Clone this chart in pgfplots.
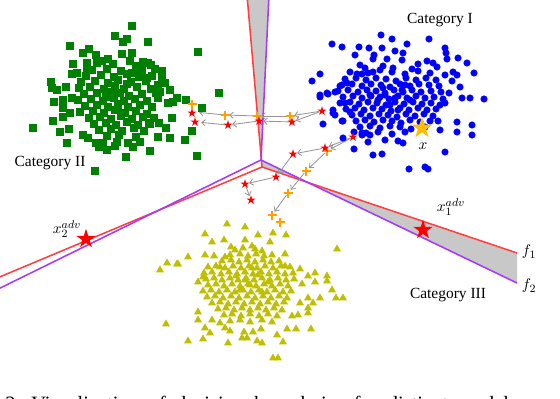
\documentclass[border=0pt]{standalone}
\usepackage{fontspec}
\setmainfont{Liberation Serif}
\usepackage{pgfplots}
\pgfplotsset{compat=1.18}
\usetikzlibrary{arrows.meta}
\definecolor{cI}{rgb}{0,0,1}
\definecolor{cII}{rgb}{0,0.5,0}
\definecolor{cIII}{rgb}{0.75,0.75,0}
\definecolor{fone}{RGB}{255,64,64}
\definecolor{ftwo}{RGB}{168,56,250}
\definecolor{band}{RGB}{200,200,200}
\definecolor{stepc}{RGB}{255,160,0}
\definecolor{gold}{RGB}{255,190,0}
\definecolor{arrc}{RGB}{150,150,150}
\tikzset{lbl/.style={font=\fontsize{11}{13}\selectfont}}

% filled five-pointed star
\pgfdeclareplotmark{fstar}{%
  \pgfpathmoveto{\pgfpointpolar{90}{\pgfplotmarksize}}%
  \pgfpathlineto{\pgfpointpolar{126}{0.382*\pgfplotmarksize}}%
  \pgfpathlineto{\pgfpointpolar{162}{\pgfplotmarksize}}%
  \pgfpathlineto{\pgfpointpolar{198}{0.382*\pgfplotmarksize}}%
  \pgfpathlineto{\pgfpointpolar{234}{\pgfplotmarksize}}%
  \pgfpathlineto{\pgfpointpolar{270}{0.382*\pgfplotmarksize}}%
  \pgfpathlineto{\pgfpointpolar{306}{\pgfplotmarksize}}%
  \pgfpathlineto{\pgfpointpolar{342}{0.382*\pgfplotmarksize}}%
  \pgfpathlineto{\pgfpointpolar{18}{\pgfplotmarksize}}%
  \pgfpathlineto{\pgfpointpolar{54}{0.382*\pgfplotmarksize}}%
  \pgfpathclose
  \pgfusepathqfill}

\begin{document}
\begin{tikzpicture}
\begin{axis}[
    width=14cm, height=9.95cm, scale only axis,
    xmin=0, xmax=560, ymin=0, ymax=398, y dir=reverse,
    hide axis,
    arr/.style={arrc, line width=0.6pt, shorten >=3pt, shorten <=2pt,
        -{Straight Barb[length=2.5pt,width=4.5pt]}},
]
% shaded bands between the two boundaries
\addplot[fill=band, draw=none] coordinates {(247,-5) (269,-5) (261,160) (262,167)} -- cycle;
\addplot[fill=band, draw=none] coordinates {(261,160) (262,167) (517,253) (517,283)} -- cycle;

% decision boundaries f1 (red) and f2 (purple)
\addplot[fone, line width=1.1pt] coordinates {(247,-5) (262,167) (517,253)};
\addplot[fone, line width=1.1pt] coordinates {(262,167) (-10,281)};
\addplot[ftwo, line width=1.1pt] coordinates {(269,-5) (261,160) (517,283)};
\addplot[ftwo, line width=1.1pt] coordinates {(261,160) (-10,293)};

% Category II (green squares)
\addplot[only marks, mark=square*, mark size=2.3pt, cII, mark options={draw=none, fill=cII}] coordinates {
(132,26) (115,36) (127,39) (123,42) (148,42) (70,46) (198,52) (83,53) (89,49) (96,55)
(102,61) (132,53) (122,54) (73,64) (72,74) (77,73) (87,63) (87,70) (51,82) (52,88)
(57,90) (66,87) (54,102) (63,100) (72,98) (63,108) (70,113) (63,117) (53,121) (33,128)
(60,132) (69,129) (67,143) (83,135) (88,138) (96,143) (103,143) (117,142) (128,143) (140,142)
(158,137) (170,138) (185,140) (166,128) (172,118) (159,123) (150,124) (219,93) (186,100) (177,98)
(173,102) (168,103) (162,71) (162,77) (158,85) (165,83) (170,90) (160,92) (147,78) (148,63)
(143,62) (138,69) (132,73) (202,108) (197,156) (192,131) (99,147) (107,150) (150,151) (126,157)
(95,171) (115,146) (133,147)
(108,59) (130,61)
(97,63) (113,64) (136,66) (151,65)
(92,70) (107,69) (121,71) (142,70) (155,69)
(86,76) (101,75) (114,77) (127,74) (139,77) (152,76)
(81,82) (95,81) (108,83) (118,80) (131,82) (146,81)
(79,88) (90,87) (104,89) (115,86) (124,89) (137,87) (151,89)
(84,94) (97,93) (109,95) (120,93) (129,96) (142,94) (156,93)
(78,100) (91,99) (103,101) (114,98) (124,101) (135,99) (147,101) (158,98)
(85,106) (97,105) (108,107) (118,104) (128,107) (140,105) (152,107)
(80,112) (93,111) (104,113) (115,110) (125,113) (136,111) (147,114)
(89,118) (100,117) (111,119) (121,116) (132,119) (143,117) (154,118)
(94,124) (106,123) (116,125) (127,122) (138,125) (149,123)
(99,130) (111,129) (122,131) (134,128) (144,131)
(107,136) (119,135) (136,137)
(112,92) (127,84) (118,110) (106,97)
};

% Category I (blue circles)
\addplot[only marks, mark=*, mark size=2.3pt, cI, mark options={draw=none, fill=cI}] coordinates {
(381,35) (392,39) (429,39) (332,44) (342,47) (359,47) (369,48) (382,48) (395,51) (407,44)
(445,48) (446,53) (355,55) (374,55) (373,59) (387,59) (403,53) (447,59) (458,58) (467,63)
(427,61) (433,63) (437,67) (418,64) (412,69) (402,60) (360,65) (365,68) (383,66) (393,68)
(362,74) (357,74) (373,72) (320,74) (312,81) (445,75) (453,72) (457,75) (474,73) (452,81)
(460,87) (449,93) (462,98) (470,98) (484,99) (445,103) (320,97) (328,94) (335,92) (340,86)
(347,83) (345,103) (350,112) (333,110) (335,115) (342,121) (323,124) (457,122) (472,125) (457,132)
(472,135) (445,152) (409,169) (425,167) (428,169) (382,154) (373,155) (368,142) (385,140)
(398,141) (403,143) (440,130) (438,121) (362,133) (370,135) (320,95) (327,93) (333,113) (343,121)
(343,138) (354,132) (354,149) (362,135)
(350,72) (368,73) (380,70) (392,72) (405,74) (418,71) (430,73)
(345,79) (356,78) (366,80) (376,78) (386,79) (396,81) (406,78) (416,80) (426,78) (436,80)
(342,85) (352,84) (362,86) (371,84) (381,85) (390,87) (400,84) (410,86) (419,84) (429,85) (439,86)
(338,91) (348,90) (358,92) (367,90) (376,91) (385,93) (394,90) (403,92) (412,90) (421,92) (431,91) (441,92)
(343,97) (353,96) (362,98) (371,96) (380,97) (389,99) (398,96) (407,98) (416,96) (425,98) (434,97) (443,99)
(340,103) (350,102) (359,104) (368,102) (377,103) (386,105) (395,102) (404,104) (413,102) (422,104) (431,103) (440,105)
(346,109) (355,108) (364,110) (373,108) (382,109) (391,111) (400,108) (409,110) (418,108) (427,110) (436,109)
(352,115) (361,114) (370,116) (379,114) (388,115) (397,117) (406,114) (415,116) (424,114) (433,116)
(356,121) (365,120) (374,122) (383,120) (392,121) (401,123) (410,120) (420,122) (430,121)
(360,127) (370,126) (380,128) (390,126) (400,127) (411,129) (425,127)
(366,133) (378,132) (392,134) (405,132)
(385,95) (395,98) (402,90) (390,105) (378,100) (410,100) (370,95) (398,110) (383,88) (405,85)
};

% Category III (yellow triangles)
\addplot[only marks, mark=triangle*, mark size=2.8pt, cIII, mark options={draw=none, fill=cIII}] coordinates {
(227,224) (245,227) (205,234) (258,235) (273,233) (286,235) (212,242) (224,240) (245,240) (270,242)
(231,247) (252,246) (337,249) (188,257) (205,255) (214,256) (225,257) (285,254) (167,263) (177,264)
(160,270) (220,267) (285,266) (300,269) (315,273) (308,276) (327,276) (327,281) (315,282) (302,284)
(198,282) (203,277) (332,290) (336,298) (343,298) (320,298) (308,298) (300,303) (313,303) (308,308)
(308,313) (298,315) (292,316) (198,312) (198,320) (212,320) (166,324) (205,328) (220,323) (210,333)
(225,328) (230,331) (244,332) (253,332) (261,329) (277,335) (287,329) (296,329) (311,329) (283,342)
(242,338) (247,338) (257,341) (262,343) (188,341) (203,339) (228,343) (273,358) (278,358) (178,264)
(235,250) (243,248) (255,249) (262,251)
(230,255) (240,254) (248,256) (256,254) (264,256) (272,255)
(222,261) (231,260) (239,262) (247,260) (255,262) (263,260) (271,262) (279,261)
(208,267) (216,266) (225,268) (233,266) (241,268) (249,266) (257,268) (265,266) (273,268) (281,266) (290,267)
(204,273) (212,272) (221,274) (229,272) (237,274) (245,272) (253,274) (261,272) (269,274) (277,272) (285,274) (293,273)
(206,279) (214,278) (222,280) (230,278) (238,280) (246,278) (254,280) (262,278) (270,280) (278,278) (286,280) (294,279)
(208,285) (216,284) (224,286) (232,284) (240,286) (248,284) (256,286) (264,284) (272,286) (280,284) (288,286)
(203,291) (211,290) (219,292) (227,290) (235,292) (243,290) (251,292) (259,290) (267,292) (275,290) (283,292) (291,291)
(207,297) (215,296) (223,298) (231,296) (239,298) (247,296) (255,298) (263,296) (271,298) (279,296) (287,298)
(212,303) (220,302) (228,304) (236,302) (244,304) (252,302) (260,304) (268,302) (276,304) (284,302)
(218,309) (226,308) (234,310) (242,308) (250,310) (258,308) (266,310) (274,308) (282,310)
(224,315) (232,314) (241,316) (250,314) (259,316) (268,314) (277,316)
(230,321) (240,320) (250,322) (262,320) (272,322)
(250,285) (245,280) (258,275) (240,290) (262,292) (252,268) (236,276) (268,282)
};

% adversarial steps: arrows
\addplot[arr] coordinates {(322,111) (290,116)};
\addplot[arr] coordinates {(290,116) (257,116)};
\addplot[arr] coordinates {(257,116) (225,115)};
\addplot[arr] coordinates {(225,115) (195,112)};
\addplot[arr] coordinates {(322,111) (292,122)};
\addplot[arr] coordinates {(292,122) (259,121)};
\addplot[arr] coordinates {(259,121) (228,125)};
\addplot[arr] coordinates {(228,125) (197,122)};
\addplot[arr] coordinates {(353,137) (325,148)};
\addplot[arr] coordinates {(353,137) (327,151)};
\addplot[arr] coordinates {(325,148) (293,154)};
\addplot[arr] coordinates {(293,154) (276,177)};
\addplot[arr] coordinates {(276,177) (245,184)};
\addplot[arr] coordinates {(245,184) (251,200)};
\addplot[arr] coordinates {(327,151) (306,171)};
\addplot[arr] coordinates {(306,171) (288,193)};
\addplot[arr] coordinates {(288,193) (272,215)};

% adversarial steps: markers
\addplot[only marks, mark=+, mark size=3.2pt, stepc, line width=1pt] coordinates {
(290,116) (257,116) (225,115) (192,104) (327,151) (306,171) (288,193) (272,215) (280,222)
};
\addplot[only marks, mark=fstar, mark size=3.4pt, red] coordinates {
(322,111) (292,122) (259,121) (228,125) (195,122) (192,113)
(353,137) (325,148) (293,154) (276,177) (245,184) (251,200)
};

% x and the two adversarial examples
\addplot[only marks, mark=fstar, mark size=8pt, gold] coordinates {(422,128)};
\addplot[only marks, mark=fstar, mark size=7.2pt, red] coordinates {(423,230) (86,239)};

% labels
\node[lbl] at (axis cs:440,20) {Category I};
\node[lbl] at (axis cs:50,163) {Category II};
\node[lbl] at (axis cs:448,295) {Category III};
\node[lbl] at (axis cs:423,146) {$x$};
\node[lbl] at (axis cs:451,207) {$x_1^{adv}$};
\node[lbl] at (axis cs:67,229) {$x_2^{adv}$};
\node[lbl, anchor=west] at (axis cs:517,252) {$f_1$};
\node[lbl, anchor=west] at (axis cs:517,286) {$f_2$};
\coordinate (cap) at (axis cs:5,410);
\end{axis}
\node[anchor=base west, font=\fontsize{14.5}{16}\selectfont, inner sep=0pt] at (cap)
  {2:\ \ Visualization\ \ of\ \ decision\ \ boundaries\ \ for\ \ distinct\ \ models};
\pgfresetboundingbox
\path[use as bounding box] (current axis.south west) rectangle (current axis.north east);
\end{tikzpicture}
\end{document}
